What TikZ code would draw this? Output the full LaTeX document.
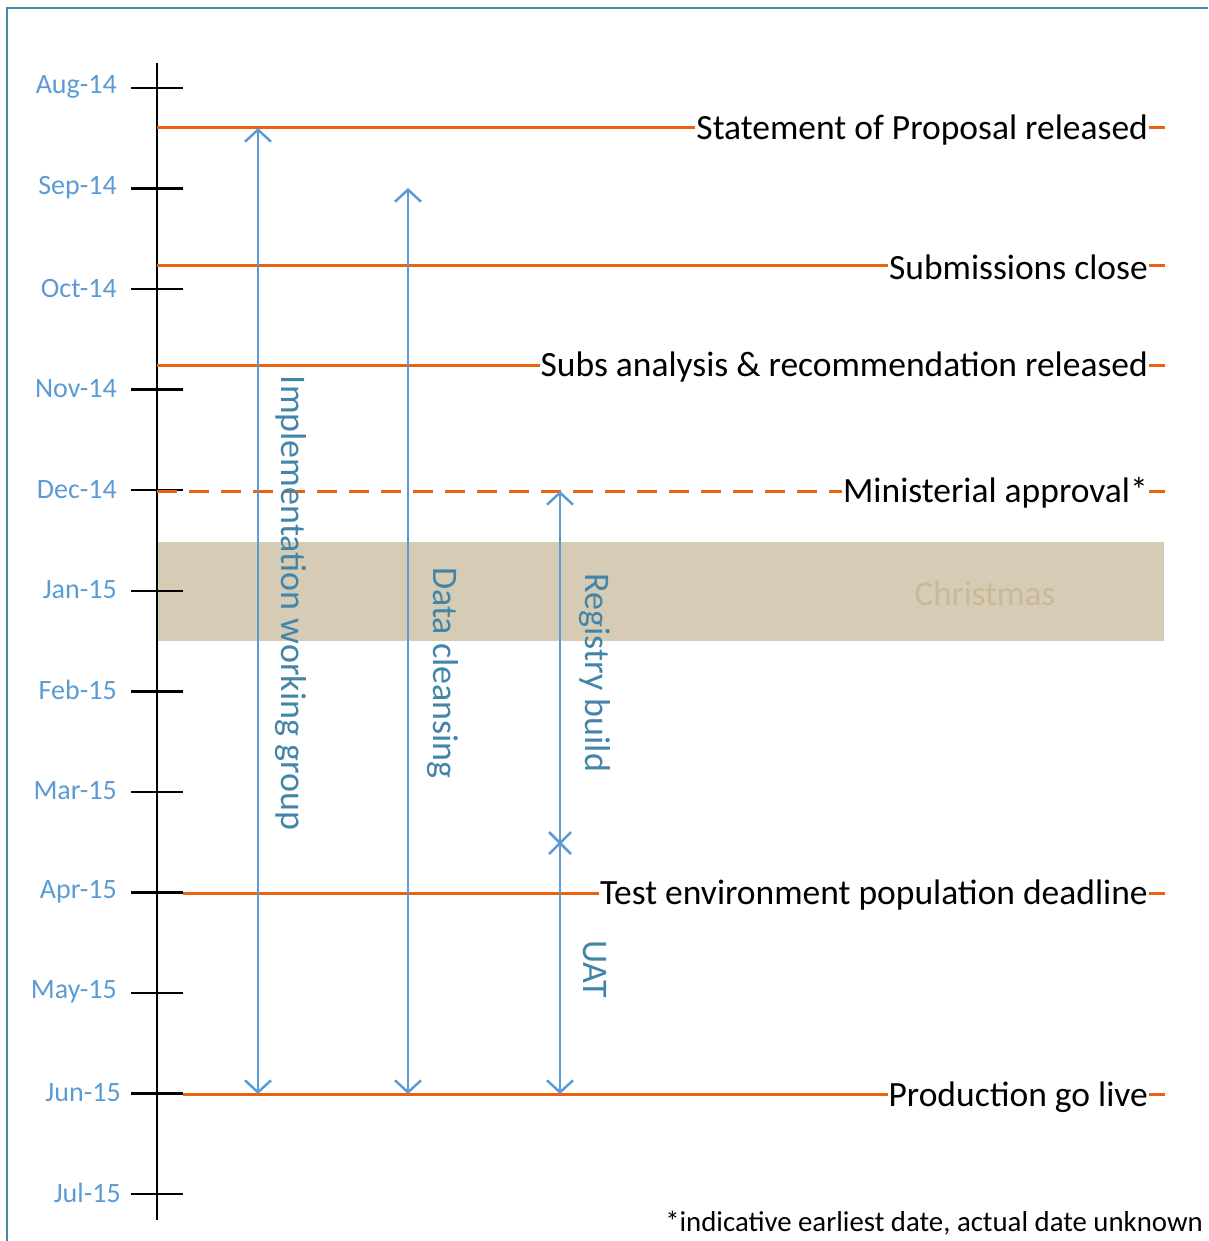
\documentclass[tikz,border=0pt]{standalone}
\usepackage{fontspec}
\setmainfont{Carlito}
\usetikzlibrary{arrows.meta}
\definecolor{monthblue}{RGB}{91,155,213}
\definecolor{arrowblue}{RGB}{91,155,213}
\definecolor{labteal}{RGB}{66,133,168}
\definecolor{milorange}{RGB}{234,98,14}
\definecolor{bandfill}{RGB}{214,203,181}
\definecolor{bandtext}{RGB}{201,185,150}
\definecolor{framecol}{RGB}{74,136,168}
\tikzset{
  frame/.style={draw=framecol, line width=2.5pt},
  axisline/.style={draw=black, line width=2.8pt},
  tickline/.style={draw=black, line width=2.5pt},
  monthlab/.style={text=monthblue, anchor=east, inner sep=0pt, font=\fontsize{28}{32}\selectfont},
  milestone/.style={draw=milorange, line width=3pt},
  miletext/.style={fill=white, anchor=east, inner sep=1pt, text=black, font=\fontsize{35.5}{40}\selectfont},
  spanarrow/.style={draw=arrowblue, line width=2.5pt, {Straight Barb[length=12pt,width=26pt,line width=2.5pt]}-{Straight Barb[length=12pt,width=26pt,line width=2.5pt]}},
  spanlab/.style={text=labteal, rotate=-90, inner sep=0pt, font=\fontsize{36}{40}\selectfont},
}
\begin{document}
\begin{tikzpicture}[x=1pt,y=-1pt]
\useasboundingbox (0,0) rectangle (1208,1241);
\clip (0,0) rectangle (1208,1241);
% frame
\draw[frame] (7,8) rectangle (1240,1270);
% Christmas band
\fill[bandfill] (157,542) rectangle (1164,641);
\node[text=bandtext, font=\fontsize{35}{40}\selectfont] (xmas) at (985,593) {Christmas};
% axis
\coordinate (axtop) at (157,63);
\coordinate (axbot) at (157,1220);
\draw[axisline] (axtop) -- (axbot);
% ticks and month labels
\foreach \n/\m/\dx [count=\i from 0] in {aug/Aug-14/40,sep/Sep-14/40,oct/Oct-14/40,nov/Nov-14/40,dec/Dec-14/40,jan/Jan-15/40,feb/Feb-15/40,mar/Mar-15/40,apr/Apr-15/40,may/May-15/40,jun/Jun-15/36,jul/Jul-15/36}{
  \coordinate (t\n) at (157,{88+100.55*\i});
  \draw[tickline] ([xshift=-26pt]t\n) -- ([xshift=26pt]t\n);
  \node[monthlab] (l\n) at ([xshift=-\dx pt,yshift=1pt]t\n) {\m};
}
% milestones
\coordinate (m1s) at (157,128);  \coordinate (m1e) at (1165,128);
\coordinate (m2s) at (157,265);  \coordinate (m2e) at (1165,265);
\coordinate (m3s) at (157,365);  \coordinate (m3e) at (1165,365);
\coordinate (m4s) at (157,491);  \coordinate (m4e) at (1165,491);
\coordinate (m5s) at (183,893);  \coordinate (m5e) at (1165,893);
\coordinate (m6s) at (183,1094); \coordinate (m6e) at (1165,1094);
\draw[milestone] (m1s) -- (m1e);
\draw[milestone] (m2s) -- (m2e);
\draw[milestone] (m3s) -- (m3e);
\draw[milestone, dash pattern=on 20pt off 12pt] (m4s) -- (m4e);
\draw[milestone] (m5s) -- (m5e);
\draw[milestone] (m6s) -- (m6e);
\node[miletext] (s1) at (1149,130) {Statement of Proposal released};
\node[miletext] (s2) at (1149,267) {Submissions close};
\node[miletext] (s3) at (1149,367) {Subs analysis \& recommendation released};
\node[miletext] (s4) at (1149,493) {Ministerial approval*};
\node[miletext] (s5) at (1149,895) {Test environment population deadline};
\node[miletext] (s6) at (1149,1097) {Production go live};
% span arrows
\coordinate (a1t) at (258,128);  \coordinate (a1b) at (258,1094);
\coordinate (a2t) at (408,188);  \coordinate (a2b) at (408,1094);
\coordinate (a3t) at (560,491);  \coordinate (a3m) at (560,843); \coordinate (a3b) at (560,1094);
\draw[spanarrow] (a1t) -- (a1b);
\draw[spanarrow] (a2t) -- (a2b);
\draw[spanarrow] (a3t) -- (a3b);
\draw[draw=arrowblue, line width=2.5pt] ([shift={(-11pt,-11pt)}]a3m) -- ([shift={(11pt,11pt)}]a3m)
  ([shift={(-11pt,11pt)}]a3m) -- ([shift={(11pt,-11pt)}]a3m);
\node[spanlab] (impl) at (291,603) {Implementation working group};
\node[spanlab] (dc) at (443,673) {Data cleansing};
\node[spanlab] (rb) at (595,673) {Registry build};
\node[spanlab] (uat) at (595,969) {UAT};
% footnote
\node[anchor=south east, inner sep=0pt, font=\fontsize{28.8}{32}\selectfont] (foot) at (1203,1235) {*indicative earliest date, actual date unknown};
\end{tikzpicture}
\end{document}
